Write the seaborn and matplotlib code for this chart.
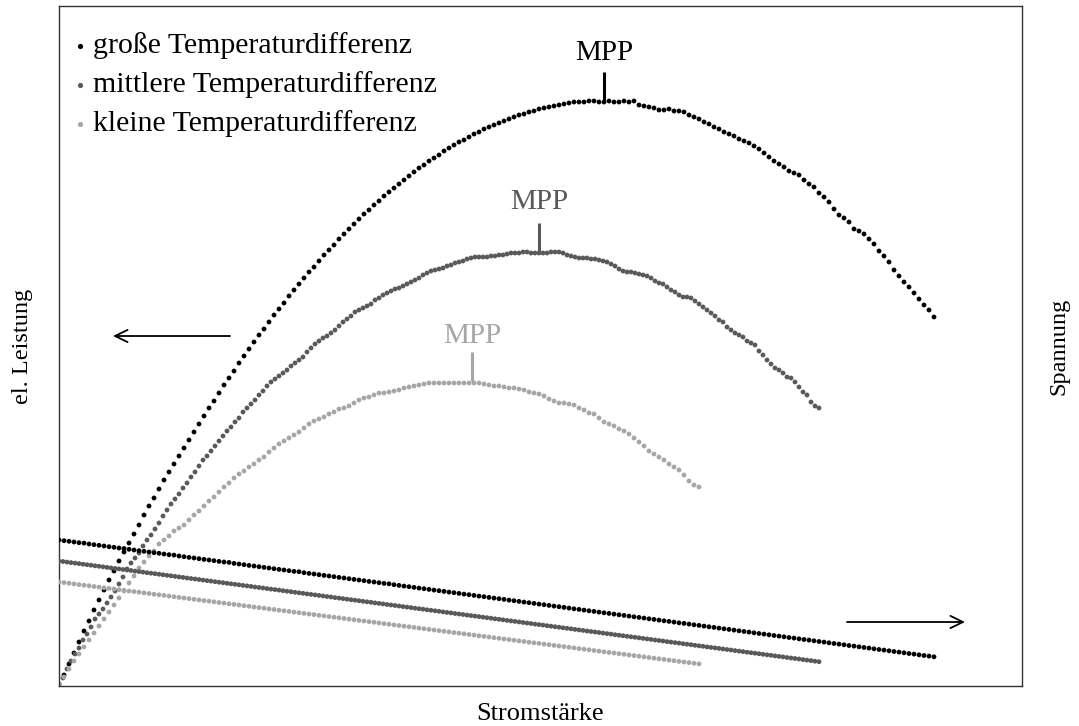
import matplotlib
matplotlib.use("Agg")
import matplotlib.pyplot as plt
import pandas as pd
import seaborn as sns

# ---------------- data (arbitrary units) ----------------
serien = ["große Temperaturdifferenz", "mittlere Temperaturdifferenz", "kleine Temperaturdifferenz"]
farben = ["#000000", "#595959", "#a6a6a6"]

# current values (Stromstärke) of the measurements
strom_a = [
    0, 5, 10, 15, 20, 25, 30, 35, 40, 45, 50, 55, 60, 65, 70, 75, 80, 85, 90, 95,
    100, 105, 110, 115, 120, 125, 130, 135, 140, 145, 150, 155, 160, 165, 170, 175, 180, 185, 190, 195,
    200, 205, 210, 215, 220, 225, 230, 235, 240, 245, 250, 255, 260, 265, 270, 275, 280, 285, 290, 295,
    300, 305, 310, 315, 320, 325, 330, 335, 340, 345, 350, 355, 360, 365, 370, 375, 380, 385, 390, 395,
    400, 405, 410, 415, 420, 425, 430, 435, 440, 445, 450, 455, 460, 465, 470, 475, 480, 485, 490, 495,
    500, 505, 510, 515, 520, 525, 530, 535, 540, 545, 550, 555, 560, 565, 570, 575, 580, 585, 590, 595,
    600, 605, 610, 615, 620, 625, 630, 635, 640, 645, 650, 655, 660, 665, 670, 675, 680, 685, 690, 695,
    700, 705, 710, 715, 720, 725, 730, 735, 740, 745, 750, 755, 760, 765, 770, 775, 780, 785, 790, 795,
    800, 805, 810, 815, 820, 825, 830, 835, 840, 845, 850, 855, 860, 865, 870, 875,
]
strom_b = [
    0, 4, 8, 12, 16, 20, 24, 28, 32, 36, 40, 44, 48, 52, 56, 60, 64, 68, 72, 76,
    80, 84, 88, 92, 96, 100, 104, 108, 112, 116, 120, 124, 128, 132, 136, 140, 144, 148, 152, 156,
    160, 164, 168, 172, 176, 180, 184, 188, 192, 196, 200, 204, 208, 212, 216, 220, 224, 228, 232, 236,
    240, 244, 248, 252, 256, 260, 264, 268, 272, 276, 280, 284, 288, 292, 296, 300, 304, 308, 312, 316,
    320, 324, 328, 332, 336, 340, 344, 348, 352, 356, 360, 364, 368, 372, 376, 380, 384, 388, 392, 396,
    400, 404, 408, 412, 416, 420, 424, 428, 432, 436, 440, 444, 448, 452, 456, 460, 464, 468, 472, 476,
    480, 484, 488, 492, 496, 500, 504, 508, 512, 516, 520, 524, 528, 532, 536, 540, 544, 548, 552, 556,
    560, 564, 568, 572, 576, 580, 584, 588, 592, 596, 600, 604, 608, 612, 616, 620, 624, 628, 632, 636,
    640, 644, 648, 652, 656, 660, 664, 668, 672, 676, 680, 684, 688, 692, 696, 700, 704, 708, 712, 716,
    720, 724, 728, 732, 736, 740, 744, 748, 752, 756, 760,
]

# el. Leistung, große Temperaturdifferenz (uses strom_a)
leistung_gross = [
    2, 11, 22, 33, 44, 55, 65, 76, 86, 96, 106, 115, 125, 134, 143, 152, 161, 171, 180, 188,
    197, 206, 214, 222, 230, 238, 246, 254, 262, 270, 278, 285, 293, 301, 308, 315, 323, 330, 337, 344,
    351, 357, 364, 371, 377, 383, 390, 396, 402, 408, 414, 419, 425, 431, 436, 441, 447, 452, 457, 462,
    467, 472, 476, 481, 485, 490, 494, 498, 502, 506, 510, 514, 518, 521, 525, 528, 531, 535, 538, 541,
    544, 546, 549, 552, 554, 557, 559, 561, 563, 565, 567, 569, 571, 572, 574, 575, 577, 578, 579, 580,
    581, 582, 583, 584, 584, 584, 585, 585, 584, 584, 585, 584, 584, 585, 584, 585, 581, 580, 579, 578,
    576, 576, 577, 575, 575, 574, 571, 569, 567, 564, 562, 559, 557, 554, 552, 550, 547, 545, 543, 540,
    537, 533, 529, 525, 522, 519, 515, 513, 511, 506, 502, 499, 493, 489, 484, 477, 471, 468, 464, 457,
    455, 452, 447, 442, 435, 430, 424, 416, 410, 404, 399, 393, 387, 381, 376, 369,
]
# Spannung, große Temperaturdifferenz (uses strom_a)
spannung_gross = [
    146.0, 145.3, 144.7, 144.0, 143.3, 142.9, 142.0, 141.3, 140.7, 140.0, 139.3, 138.7, 138.0, 137.5, 136.7, 136.0, 135.3, 134.7, 134.0, 133.3,
    132.7, 132.0, 131.3, 130.9, 130.0, 129.3, 128.6, 128.0, 127.3, 126.6, 126.0, 125.3, 124.6, 124.0, 123.6, 122.6, 122.0, 121.3, 120.6, 120.0,
    119.3, 118.6, 118.0, 117.3, 116.6, 116.0, 115.3, 114.6, 114.3, 113.3, 112.6, 112.0, 111.3, 110.6, 110.0, 109.3, 108.6, 108.0, 107.3, 106.6,
    106.0, 105.3, 104.6, 104.0, 103.3, 102.6, 102.2, 101.3, 100.6, 99.9, 99.3, 98.6, 97.9, 97.3, 96.6, 95.9, 95.3, 94.6, 93.9, 93.3,
    92.6, 91.9, 91.3, 90.6, 89.9, 89.3, 88.6, 87.9, 87.3, 86.6, 85.9, 85.3, 84.6, 83.9, 83.3, 82.6, 81.9, 81.3, 80.6, 79.9,
    79.3, 78.6, 77.9, 77.2, 76.6, 75.9, 75.2, 74.6, 73.9, 73.2, 72.6, 71.9, 71.2, 70.6, 69.9, 69.2, 68.6, 67.9, 67.2, 66.6,
    65.9, 65.2, 64.6, 63.9, 63.2, 62.6, 61.9, 61.2, 60.6, 59.9, 59.2, 58.6, 57.9, 57.2, 56.6, 55.9, 55.2, 54.5, 53.9, 53.2,
    52.5, 51.9, 51.2, 50.5, 49.9, 49.2, 48.5, 47.9, 47.2, 46.5, 45.9, 45.2, 44.5, 43.9, 43.2, 42.5, 41.9, 41.2, 40.5, 39.9,
    39.2, 38.5, 37.9, 37.2, 36.5, 35.9, 35.2, 34.5, 33.9, 33.2, 32.5, 31.9, 31.2, 30.5, 29.9, 29.2,
]

# el. Leistung, mittlere Temperaturdifferenz (uses strom_b)
leistung_mittel = [
    2, 8, 17, 25, 32, 38, 46, 52, 59, 67, 72, 77, 83, 89, 95, 102, 109, 117, 123, 128,
    133, 140, 146, 151, 157, 163, 170, 176, 182, 187, 192, 198, 203, 209, 214, 220, 226, 230, 235, 240,
    245, 250, 255, 259, 264, 268, 274, 278, 282, 286, 291, 295, 300, 304, 307, 310, 313, 316, 320, 323,
    326, 329, 334, 338, 342, 345, 348, 350, 353, 356, 360, 364, 367, 370, 374, 376, 378, 380, 382, 386,
    388, 391, 393, 395, 397, 398, 400, 402, 404, 406, 408, 411, 413, 415, 416, 417, 418, 420, 421, 423,
    424, 425, 427, 428, 429, 429, 429, 429, 430, 430, 431, 431, 432, 433, 433, 433, 434, 434, 433, 433,
    433, 433, 433, 434, 434, 434, 433, 431, 430, 429, 428, 428, 428, 427, 427, 426, 425, 424, 422, 420,
    417, 415, 414, 414, 413, 412, 411, 410, 408, 405, 403, 402, 399, 396, 394, 391, 389, 389, 388, 385,
    382, 379, 376, 373, 370, 366, 364, 359, 356, 353, 351, 349, 345, 343, 341, 335, 331, 326, 322, 318,
    316, 313, 309, 308, 304, 299, 294, 291, 284, 280, 278,
]
# Spannung, mittlere Temperaturdifferenz (uses strom_b)
spannung_mittel = [
    125.0, 124.5, 123.9, 123.4, 122.9, 122.4, 121.8, 121.3, 120.8, 120.2, 119.7, 119.2, 118.6, 118.1, 117.6, 117.1, 116.5, 116.0, 115.5, 114.9,
    114.4, 113.9, 113.3, 112.8, 112.3, 111.8, 111.2, 110.7, 110.2, 109.6, 109.1, 108.6, 108.0, 107.5, 107.0, 106.5, 105.9, 105.4, 104.9, 104.3,
    103.8, 103.3, 102.7, 102.2, 101.7, 101.2, 100.6, 100.1, 99.6, 99.0, 98.5, 98.0, 97.4, 96.9, 96.4, 95.9, 95.3, 94.8, 94.3, 93.7,
    93.2, 92.7, 92.1, 91.6, 91.1, 90.6, 90.0, 89.5, 89.0, 88.4, 87.9, 87.4, 86.8, 86.3, 85.8, 85.3, 84.7, 84.2, 83.7, 83.1,
    82.6, 82.1, 81.5, 81.0, 80.5, 80.0, 79.4, 78.9, 78.4, 77.8, 77.3, 76.8, 76.2, 75.7, 75.2, 74.7, 74.1, 73.6, 73.1, 72.5,
    72.0, 71.5, 70.9, 70.4, 69.9, 69.4, 68.8, 68.3, 67.8, 67.2, 66.7, 66.2, 65.6, 65.1, 64.6, 64.1, 63.5, 63.0, 62.5, 61.9,
    61.4, 60.9, 60.3, 59.8, 59.3, 58.8, 58.2, 57.7, 57.2, 56.6, 56.1, 55.6, 55.0, 54.5, 54.0, 53.5, 52.9, 52.4, 51.9, 51.3,
    50.8, 50.3, 49.7, 49.2, 48.7, 48.2, 47.6, 47.1, 46.6, 46.0, 45.5, 45.0, 44.4, 43.9, 43.4, 42.9, 42.3, 41.8, 41.3, 40.7,
    40.2, 39.7, 39.1, 38.6, 38.1, 37.6, 37.0, 36.5, 36.0, 35.4, 34.9, 34.4, 33.8, 33.3, 32.8, 32.3, 31.7, 31.2, 30.7, 30.1,
    29.6, 29.1, 28.5, 28.0, 27.5, 27.0, 26.4, 25.9, 25.4, 24.8, 24.3,
]

# el. Leistung, kleine Temperaturdifferenz (uses strom_a)
leistung_klein = [
    2, 9, 17, 25, 32, 39, 46, 53, 60, 67, 74, 81, 88, 95, 103, 110, 118, 124, 130, 135,
    142, 146, 150, 155, 158, 161, 166, 171, 175, 180, 185, 189, 194, 199, 203, 208, 212, 215, 219, 222,
    226, 229, 234, 238, 242, 245, 248, 251, 254, 258, 262, 265, 267, 269, 272, 274, 277, 278, 280, 283,
    286, 288, 289, 291, 293, 293, 294, 295, 296, 298, 299, 300, 301, 302, 303, 303, 303, 303, 303, 303,
    303, 303, 303, 303, 303, 302, 301, 300, 300, 299, 298, 298, 297, 296, 294, 293, 292, 290, 287, 285,
    283, 283, 282, 281, 278, 276, 273, 272, 268, 264, 262, 260, 257, 255, 252, 248, 244, 240, 235, 232,
    229, 226, 222, 219, 216, 211, 205, 201, 199,
]
# Spannung, kleine Temperaturdifferenz (uses strom_a)
spannung_klein = [
    104.0, 103.4, 102.7, 102.1, 101.4, 100.8, 100.2, 99.5, 98.9, 98.2, 97.6, 97.0, 96.3, 95.7, 95.0, 94.4, 93.8, 93.1, 92.5, 91.8,
    91.2, 90.6, 89.9, 89.3, 88.6, 88.0, 87.4, 86.7, 86.1, 85.4, 84.8, 84.2, 83.5, 82.9, 82.2, 81.6, 81.0, 80.3, 79.7, 79.0,
    78.4, 77.8, 77.1, 76.5, 75.8, 75.2, 74.6, 73.9, 73.3, 72.6, 72.0, 71.4, 70.7, 70.1, 69.4, 68.8, 68.2, 67.5, 66.9, 66.2,
    65.6, 65.0, 64.3, 63.7, 63.0, 62.4, 61.8, 61.1, 60.5, 59.8, 59.2, 58.6, 57.9, 57.3, 56.6, 56.0, 55.4, 54.7, 54.1, 53.4,
    52.8, 52.2, 51.5, 50.9, 50.2, 49.6, 49.0, 48.3, 47.7, 47.0, 46.4, 45.8, 45.1, 44.5, 43.8, 43.2, 42.6, 41.9, 41.3, 40.6,
    40.0, 39.4, 38.7, 38.1, 37.4, 36.8, 36.2, 35.5, 34.9, 34.2, 33.6, 33.0, 32.3, 31.7, 31.0, 30.4, 29.8, 29.1, 28.5, 27.8,
    27.2, 26.6, 25.9, 25.3, 24.6, 24.0, 23.4, 22.7, 22.1,
]

# maximum power points
mpp_strom = [545, 480, 413]
mpp_leistung = [585, 434, 305]

# ---------------- table ----------------
teile = []
for name, I, P, U in [
    (serien[0], strom_a, leistung_gross, spannung_gross),
    (serien[1], strom_b, leistung_mittel, spannung_mittel),
    (serien[2], strom_a, leistung_klein, spannung_klein),
]:
    n = min(len(P), len(U))
    teile.append(pd.DataFrame({"Strom": I[:n], "Leistung": P[:n], "Spannung": U[:n], "Serie": name}))
df = pd.concat(teile, ignore_index=True)
palette = dict(zip(serien, farben))

# ---------------- figure ----------------
sns.set_theme(style="white")
plt.rcParams["font.family"] = ["Liberation Serif", "DejaVu Serif"]

fig = plt.figure(figsize=(10.79, 7.26), dpi=100)
ax = fig.add_axes([59 / 1079, 40 / 726, 963 / 1079, 680 / 726])
ax2 = ax.twinx()

sns.scatterplot(data=df, x="Strom", y="Spannung", hue="Serie", hue_order=serien,
                palette=palette, s=12, linewidth=0, legend=False, ax=ax2)
sns.scatterplot(data=df, x="Strom", y="Leistung", hue="Serie", hue_order=serien,
                palette=palette, s=12, linewidth=0, legend=False, ax=ax)

ax.set_xlim(0, 963)
ax.set_ylim(0, 680)
ax2.set_ylim(0, 680)
for a in (ax, ax2):
    a.set_xticks([])
    a.set_yticks([])
    a.grid(False)

for s in ax.spines.values():
    s.set_visible(True)
    s.set_color("#333333")
    s.set_linewidth(1.0)
for s in ax2.spines.values():
    s.set_visible(False)

ax.set_xlabel("Stromstärke", fontsize=19, labelpad=12, color="black")
ax.set_ylabel("el. Leistung", fontsize=17.5, labelpad=19, color="black")
ax2.set_ylabel("Spannung", fontsize=17.5, labelpad=19, color="black")

# MPP markers
mpp_fs = 21
text_abstand = [41, 43, 38]
for i in range(3):
    ax.vlines(mpp_strom[i], mpp_leistung[i], mpp_leistung[i] + 29, color=farben[i], lw=2.2)
    ax.text(mpp_strom[i], mpp_leistung[i] + text_abstand[i], "MPP", ha="center", va="baseline",
            color=farben[i], fontsize=mpp_fs)

# arrows pointing to the respective axis
pfeil = dict(arrowstyle="->,head_length=0.45,head_width=0.22", lw=1.3, color="black",
             shrinkA=0, shrinkB=0, mutation_scale=20)
ax.annotate("", xy=(0.0561, 0.5147), xytext=(0.1776, 0.5147), xycoords="axes fraction",
            textcoords="axes fraction", arrowprops=pfeil)
ax.annotate("", xy=(0.9408, 0.0941), xytext=(0.8183, 0.0941), xycoords="axes fraction",
            textcoords="axes fraction", arrowprops=pfeil)

# legend rows
bullet_x = (80 - 59) / 963
text_x = (93 - 59) / 963
bullet_py = [46, 85, 124]
baseline_py = [53, 92, 131]
for i in range(3):
    ax.scatter([bullet_x], [(686 - bullet_py[i]) / 680], transform=ax.transAxes, s=14,
               color=farben[i], linewidth=0, clip_on=False, zorder=5)
    ax.text(text_x, (686 - baseline_py[i]) / 680, serien[i], transform=ax.transAxes,
            fontsize=21.5, va="baseline", ha="left", color="black")

fig.savefig("out.png", dpi=100, facecolor="white")
